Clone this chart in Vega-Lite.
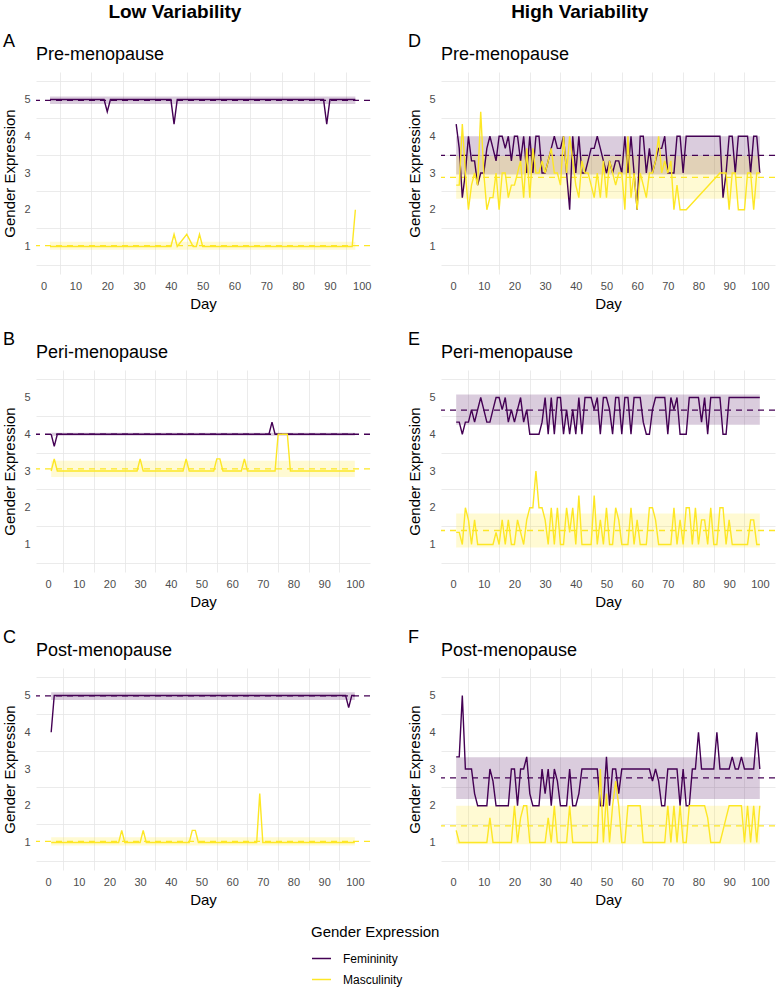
{
"$schema":"https://vega.github.io/schema/vega-lite/v6.json",
"padding":{"left":2,"top":3,"right":0,"bottom":0},
"background":"white",
"datasets":{
"bands":[
{"panel":"A","series":"Femininity","mean":4.98,"lo":4.88,"hi":5.08,"start":2,"end":98},
{"panel":"A","series":"Masculinity","mean":1.02,"lo":0.91,"hi":1.13,"start":2,"end":98},
{"panel":"B","series":"Femininity","mean":4.0,"lo":3.96,"hi":4.04,"start":1,"end":100},
{"panel":"B","series":"Masculinity","mean":3.06,"lo":2.84,"hi":3.28,"start":1,"end":100},
{"panel":"C","series":"Femininity","mean":4.99,"lo":4.88,"hi":5.09,"start":1,"end":100},
{"panel":"C","series":"Masculinity","mean":1.03,"lo":0.92,"hi":1.14,"start":1,"end":100},
{"panel":"D","series":"Femininity","mean":3.48,"lo":2.96,"hi":4.0,"start":1,"end":100},
{"panel":"D","series":"Masculinity","mean":2.88,"lo":2.3,"hi":3.46,"start":1,"end":100},
{"panel":"E","series":"Femininity","mean":4.66,"lo":4.26,"hi":5.08,"start":1,"end":100},
{"panel":"E","series":"Masculinity","mean":1.38,"lo":0.92,"hi":1.84,"start":1,"end":100},
{"panel":"F","series":"Femininity","mean":2.76,"lo":2.18,"hi":3.32,"start":1,"end":100},
{"panel":"F","series":"Masculinity","mean":1.45,"lo":0.95,"hi":2.0,"start":1,"end":100}
],
"A":[
{"day":2,"Femininity":5,"Masculinity":1},{"day":3,"Femininity":5,"Masculinity":1},{"day":4,"Femininity":5,"Masculinity":1},{"day":5,"Femininity":5,"Masculinity":1},{"day":6,"Femininity":5,"Masculinity":1},{"day":7,"Femininity":5,"Masculinity":1},{"day":8,"Femininity":5,"Masculinity":1},{"day":9,"Femininity":5,"Masculinity":1},{"day":10,"Femininity":5,"Masculinity":1},{"day":11,"Femininity":5,"Masculinity":1},{"day":12,"Femininity":5,"Masculinity":1},{"day":13,"Femininity":5,"Masculinity":1},{"day":14,"Femininity":5,"Masculinity":1},{"day":15,"Femininity":5,"Masculinity":1},{"day":16,"Femininity":5,"Masculinity":1},{"day":17,"Femininity":5,"Masculinity":1},{"day":18,"Femininity":5,"Masculinity":1},{"day":19,"Femininity":5,"Masculinity":1},
{"day":20,"Femininity":4.67,"Masculinity":1},
{"day":21,"Femininity":5,"Masculinity":1},{"day":22,"Femininity":5,"Masculinity":1},{"day":23,"Femininity":5,"Masculinity":1},{"day":24,"Femininity":5,"Masculinity":1},{"day":25,"Femininity":5,"Masculinity":1},{"day":26,"Femininity":5,"Masculinity":1},{"day":27,"Femininity":5,"Masculinity":1},{"day":28,"Femininity":5,"Masculinity":1},{"day":29,"Femininity":5,"Masculinity":1},{"day":30,"Femininity":5,"Masculinity":1},{"day":31,"Femininity":5,"Masculinity":1},{"day":32,"Femininity":5,"Masculinity":1},{"day":33,"Femininity":5,"Masculinity":1},{"day":34,"Femininity":5,"Masculinity":1},{"day":35,"Femininity":5,"Masculinity":1},{"day":36,"Femininity":5,"Masculinity":1},{"day":37,"Femininity":5,"Masculinity":1},{"day":38,"Femininity":5,"Masculinity":1},{"day":39,"Femininity":5,"Masculinity":1},{"day":40,"Femininity":5,"Masculinity":1},
{"day":41,"Femininity":4.33,"Masculinity":1.33},{"day":42,"Femininity":5,"Masculinity":1},{"day":45,"Femininity":5,"Masculinity":1.33},{"day":47,"Femininity":5,"Masculinity":1},{"day":48,"Femininity":5,"Masculinity":1},{"day":49,"Femininity":5,"Masculinity":1.33},
{"day":50,"Femininity":5,"Masculinity":1},{"day":51,"Femininity":5,"Masculinity":1},{"day":52,"Femininity":5,"Masculinity":1},{"day":53,"Femininity":5,"Masculinity":1},{"day":54,"Femininity":5,"Masculinity":1},{"day":55,"Femininity":5,"Masculinity":1},{"day":56,"Femininity":5,"Masculinity":1},{"day":57,"Femininity":5,"Masculinity":1},{"day":58,"Femininity":5,"Masculinity":1},{"day":59,"Femininity":5,"Masculinity":1},{"day":60,"Femininity":5,"Masculinity":1},{"day":61,"Femininity":5,"Masculinity":1},{"day":62,"Femininity":5,"Masculinity":1},{"day":63,"Femininity":5,"Masculinity":1},{"day":64,"Femininity":5,"Masculinity":1},{"day":65,"Femininity":5,"Masculinity":1},{"day":66,"Femininity":5,"Masculinity":1},{"day":67,"Femininity":5,"Masculinity":1},{"day":68,"Femininity":5,"Masculinity":1},{"day":69,"Femininity":5,"Masculinity":1},{"day":70,"Femininity":5,"Masculinity":1},{"day":71,"Femininity":5,"Masculinity":1},{"day":72,"Femininity":5,"Masculinity":1},{"day":73,"Femininity":5,"Masculinity":1},{"day":74,"Femininity":5,"Masculinity":1},{"day":75,"Femininity":5,"Masculinity":1},{"day":76,"Femininity":5,"Masculinity":1},{"day":77,"Femininity":5,"Masculinity":1},{"day":78,"Femininity":5,"Masculinity":1},{"day":79,"Femininity":5,"Masculinity":1},{"day":80,"Femininity":5,"Masculinity":1},{"day":81,"Femininity":5,"Masculinity":1},{"day":82,"Femininity":5,"Masculinity":1},{"day":83,"Femininity":5,"Masculinity":1},{"day":84,"Femininity":5,"Masculinity":1},{"day":85,"Femininity":5,"Masculinity":1},{"day":86,"Femininity":5,"Masculinity":1},{"day":87,"Femininity":5,"Masculinity":1},{"day":88,"Femininity":5,"Masculinity":1},
{"day":89,"Femininity":4.33,"Masculinity":1},
{"day":90,"Femininity":5,"Masculinity":1},{"day":91,"Femininity":5,"Masculinity":1},{"day":92,"Femininity":5,"Masculinity":1},{"day":93,"Femininity":5,"Masculinity":1},{"day":94,"Femininity":5,"Masculinity":1},{"day":95,"Femininity":5,"Masculinity":1},{"day":96,"Femininity":5,"Masculinity":1},{"day":97,"Femininity":5,"Masculinity":1},{"day":98,"Femininity":5,"Masculinity":2}
],
"B":[
{"day":1,"Femininity":4,"Masculinity":3},{"day":2,"Femininity":3.67,"Masculinity":3.33},{"day":3,"Femininity":4,"Masculinity":3},{"day":4,"Femininity":4,"Masculinity":3},{"day":5,"Femininity":4,"Masculinity":3},{"day":6,"Femininity":4,"Masculinity":3},{"day":7,"Femininity":4,"Masculinity":3},{"day":8,"Femininity":4,"Masculinity":3},{"day":9,"Femininity":4,"Masculinity":3},{"day":10,"Femininity":4,"Masculinity":3},{"day":11,"Femininity":4,"Masculinity":3},{"day":12,"Femininity":4,"Masculinity":3},{"day":13,"Femininity":4,"Masculinity":3},{"day":14,"Femininity":4,"Masculinity":3},{"day":15,"Femininity":4,"Masculinity":3},{"day":16,"Femininity":4,"Masculinity":3},{"day":17,"Femininity":4,"Masculinity":3},{"day":18,"Femininity":4,"Masculinity":3},{"day":19,"Femininity":4,"Masculinity":3},{"day":20,"Femininity":4,"Masculinity":3},{"day":21,"Femininity":4,"Masculinity":3},{"day":22,"Femininity":4,"Masculinity":3},{"day":23,"Femininity":4,"Masculinity":3},{"day":24,"Femininity":4,"Masculinity":3},{"day":25,"Femininity":4,"Masculinity":3},{"day":26,"Femininity":4,"Masculinity":3},{"day":27,"Femininity":4,"Masculinity":3},{"day":28,"Femininity":4,"Masculinity":3},{"day":29,"Femininity":4,"Masculinity":3},{"day":30,"Femininity":4,"Masculinity":3.33},{"day":31,"Femininity":4,"Masculinity":3},{"day":32,"Femininity":4,"Masculinity":3},{"day":33,"Femininity":4,"Masculinity":3},{"day":34,"Femininity":4,"Masculinity":3},{"day":35,"Femininity":4,"Masculinity":3},{"day":36,"Femininity":4,"Masculinity":3},{"day":37,"Femininity":4,"Masculinity":3},{"day":38,"Femininity":4,"Masculinity":3},{"day":39,"Femininity":4,"Masculinity":3},{"day":40,"Femininity":4,"Masculinity":3},{"day":41,"Femininity":4,"Masculinity":3},{"day":42,"Femininity":4,"Masculinity":3},{"day":43,"Femininity":4,"Masculinity":3},{"day":44,"Femininity":4,"Masculinity":3},{"day":45,"Femininity":4,"Masculinity":3.33},{"day":46,"Femininity":4,"Masculinity":3},{"day":47,"Femininity":4,"Masculinity":3},{"day":48,"Femininity":4,"Masculinity":3},{"day":49,"Femininity":4,"Masculinity":3},{"day":50,"Femininity":4,"Masculinity":3},{"day":51,"Femininity":4,"Masculinity":3},{"day":52,"Femininity":4,"Masculinity":3},{"day":53,"Femininity":4,"Masculinity":3},{"day":54,"Femininity":4,"Masculinity":3},{"day":55,"Femininity":4,"Masculinity":3.33},{"day":56,"Femininity":4,"Masculinity":3.33},{"day":57,"Femininity":4,"Masculinity":3},{"day":58,"Femininity":4,"Masculinity":3},{"day":59,"Femininity":4,"Masculinity":3},{"day":60,"Femininity":4,"Masculinity":3},{"day":61,"Femininity":4,"Masculinity":3},{"day":62,"Femininity":4,"Masculinity":3},{"day":63,"Femininity":4,"Masculinity":3},{"day":64,"Femininity":4,"Masculinity":3.33},{"day":65,"Femininity":4,"Masculinity":3},{"day":66,"Femininity":4,"Masculinity":3},{"day":67,"Femininity":4,"Masculinity":3},{"day":68,"Femininity":4,"Masculinity":3},{"day":69,"Femininity":4,"Masculinity":3},{"day":70,"Femininity":4,"Masculinity":3},{"day":71,"Femininity":4,"Masculinity":3},{"day":72,"Femininity":4,"Masculinity":3},{"day":73,"Femininity":4.33,"Masculinity":3},{"day":74,"Femininity":4,"Masculinity":3},{"day":75,"Femininity":4,"Masculinity":4},{"day":76,"Femininity":4,"Masculinity":4},{"day":77,"Femininity":4,"Masculinity":4},{"day":78,"Femininity":4,"Masculinity":4},{"day":79,"Femininity":4,"Masculinity":3},{"day":80,"Femininity":4,"Masculinity":3},{"day":81,"Femininity":4,"Masculinity":3},{"day":82,"Femininity":4,"Masculinity":3},{"day":83,"Femininity":4,"Masculinity":3},{"day":84,"Femininity":4,"Masculinity":3},{"day":85,"Femininity":4,"Masculinity":3},{"day":86,"Femininity":4,"Masculinity":3},{"day":87,"Femininity":4,"Masculinity":3},{"day":88,"Femininity":4,"Masculinity":3},{"day":89,"Femininity":4,"Masculinity":3},{"day":90,"Femininity":4,"Masculinity":3},{"day":91,"Femininity":4,"Masculinity":3},{"day":92,"Femininity":4,"Masculinity":3},{"day":93,"Femininity":4,"Masculinity":3},{"day":94,"Femininity":4,"Masculinity":3},{"day":95,"Femininity":4,"Masculinity":3},{"day":96,"Femininity":4,"Masculinity":3},{"day":97,"Femininity":4,"Masculinity":3},{"day":98,"Femininity":4,"Masculinity":3},{"day":99,"Femininity":4,"Masculinity":3},{"day":100,"Femininity":4,"Masculinity":3}
],
"C":[
{"day":1,"Femininity":4,"Masculinity":1},{"day":2,"Femininity":5,"Masculinity":1},{"day":3,"Femininity":5,"Masculinity":1},{"day":4,"Femininity":5,"Masculinity":1},{"day":5,"Femininity":5,"Masculinity":1},{"day":6,"Femininity":5,"Masculinity":1},{"day":7,"Femininity":5,"Masculinity":1},{"day":8,"Femininity":5,"Masculinity":1},{"day":9,"Femininity":5,"Masculinity":1},{"day":10,"Femininity":5,"Masculinity":1},{"day":11,"Femininity":5,"Masculinity":1},{"day":12,"Femininity":5,"Masculinity":1},{"day":13,"Femininity":5,"Masculinity":1},{"day":14,"Femininity":5,"Masculinity":1},{"day":15,"Femininity":5,"Masculinity":1},{"day":16,"Femininity":5,"Masculinity":1},{"day":17,"Femininity":5,"Masculinity":1},{"day":18,"Femininity":5,"Masculinity":1},{"day":19,"Femininity":5,"Masculinity":1},{"day":20,"Femininity":5,"Masculinity":1},{"day":21,"Femininity":5,"Masculinity":1},{"day":22,"Femininity":5,"Masculinity":1},{"day":23,"Femininity":5,"Masculinity":1},{"day":24,"Femininity":5,"Masculinity":1.33},{"day":25,"Femininity":5,"Masculinity":1},{"day":26,"Femininity":5,"Masculinity":1},{"day":27,"Femininity":5,"Masculinity":1},{"day":28,"Femininity":5,"Masculinity":1},{"day":29,"Femininity":5,"Masculinity":1},{"day":30,"Femininity":5,"Masculinity":1},{"day":31,"Femininity":5,"Masculinity":1.33},{"day":32,"Femininity":5,"Masculinity":1},{"day":33,"Femininity":5,"Masculinity":1},{"day":34,"Femininity":5,"Masculinity":1},{"day":35,"Femininity":5,"Masculinity":1},{"day":36,"Femininity":5,"Masculinity":1},{"day":37,"Femininity":5,"Masculinity":1},{"day":38,"Femininity":5,"Masculinity":1},{"day":39,"Femininity":5,"Masculinity":1},{"day":40,"Femininity":5,"Masculinity":1},{"day":41,"Femininity":5,"Masculinity":1},{"day":42,"Femininity":5,"Masculinity":1},{"day":43,"Femininity":5,"Masculinity":1},{"day":44,"Femininity":5,"Masculinity":1},{"day":45,"Femininity":5,"Masculinity":1},{"day":46,"Femininity":5,"Masculinity":1},{"day":47,"Femininity":5,"Masculinity":1.33},{"day":48,"Femininity":5,"Masculinity":1.33},{"day":49,"Femininity":5,"Masculinity":1},{"day":50,"Femininity":5,"Masculinity":1},{"day":51,"Femininity":5,"Masculinity":1},{"day":52,"Femininity":5,"Masculinity":1},{"day":53,"Femininity":5,"Masculinity":1},{"day":54,"Femininity":5,"Masculinity":1},{"day":55,"Femininity":5,"Masculinity":1},{"day":56,"Femininity":5,"Masculinity":1},{"day":57,"Femininity":5,"Masculinity":1},{"day":58,"Femininity":5,"Masculinity":1},{"day":59,"Femininity":5,"Masculinity":1},{"day":60,"Femininity":5,"Masculinity":1},{"day":61,"Femininity":5,"Masculinity":1},{"day":62,"Femininity":5,"Masculinity":1},{"day":63,"Femininity":5,"Masculinity":1},{"day":64,"Femininity":5,"Masculinity":1},{"day":65,"Femininity":5,"Masculinity":1},{"day":66,"Femininity":5,"Masculinity":1},{"day":67,"Femininity":5,"Masculinity":1},{"day":68,"Femininity":5,"Masculinity":1},{"day":69,"Femininity":5,"Masculinity":2.33},{"day":70,"Femininity":5,"Masculinity":1},{"day":71,"Femininity":5,"Masculinity":1},{"day":72,"Femininity":5,"Masculinity":1},{"day":73,"Femininity":5,"Masculinity":1},{"day":74,"Femininity":5,"Masculinity":1},{"day":75,"Femininity":5,"Masculinity":1},{"day":76,"Femininity":5,"Masculinity":1},{"day":77,"Femininity":5,"Masculinity":1},{"day":78,"Femininity":5,"Masculinity":1},{"day":79,"Femininity":5,"Masculinity":1},{"day":80,"Femininity":5,"Masculinity":1},{"day":81,"Femininity":5,"Masculinity":1},{"day":82,"Femininity":5,"Masculinity":1},{"day":83,"Femininity":5,"Masculinity":1},{"day":84,"Femininity":5,"Masculinity":1},{"day":85,"Femininity":5,"Masculinity":1},{"day":86,"Femininity":5,"Masculinity":1},{"day":87,"Femininity":5,"Masculinity":1},{"day":88,"Femininity":5,"Masculinity":1},{"day":89,"Femininity":5,"Masculinity":1},{"day":90,"Femininity":5,"Masculinity":1},{"day":91,"Femininity":5,"Masculinity":1},{"day":92,"Femininity":5,"Masculinity":1},{"day":93,"Femininity":5,"Masculinity":1},{"day":94,"Femininity":5,"Masculinity":1},{"day":95,"Femininity":5,"Masculinity":1},{"day":96,"Femininity":5,"Masculinity":1},{"day":97,"Femininity":5,"Masculinity":1},{"day":98,"Femininity":4.67,"Masculinity":1},{"day":99,"Femininity":5,"Masculinity":1},{"day":100,"Femininity":5,"Masculinity":1}
],
"D":[
{"day":1,"Femininity":4.33,"Masculinity":2.67},{"day":2,"Femininity":3.67,"Masculinity":2.67},{"day":3,"Femininity":2.33,"Masculinity":4.33},{"day":4,"Femininity":3,"Masculinity":3},{"day":5,"Femininity":4,"Masculinity":2},{"day":6,"Femininity":3.33,"Masculinity":2.67},{"day":7,"Femininity":3.33,"Masculinity":3},{"day":8,"Femininity":2.67,"Masculinity":2.67},{"day":9,"Femininity":3,"Masculinity":4.67},{"day":10,"Femininity":3,"Masculinity":3},{"day":11,"Femininity":3.67,"Masculinity":2},{"day":12,"Femininity":4,"Masculinity":2.33},{"day":13,"Femininity":3.67,"Masculinity":2.33},{"day":14,"Femininity":3.33,"Masculinity":3},{"day":15,"Femininity":4,"Masculinity":2},{"day":16,"Femininity":4,"Masculinity":3},{"day":17,"Femininity":3.67,"Masculinity":3},{"day":18,"Femininity":4,"Masculinity":2.33},{"day":19,"Femininity":3.33,"Masculinity":2.67},{"day":20,"Femininity":4,"Masculinity":2.67},{"day":21,"Femininity":4,"Masculinity":3},{"day":22,"Femininity":3.33,"Masculinity":3.33},{"day":23,"Femininity":4,"Masculinity":2.33},{"day":24,"Femininity":3,"Masculinity":3.67},{"day":25,"Femininity":4,"Masculinity":2.33},{"day":26,"Femininity":3,"Masculinity":3.67},{"day":27,"Femininity":4,"Masculinity":3},{"day":28,"Femininity":4,"Masculinity":3},{"day":29,"Femininity":3,"Masculinity":3.33},{"day":30,"Femininity":3,"Masculinity":3},{"day":31,"Femininity":3.33,"Masculinity":3.33},{"day":32,"Femininity":3.67,"Masculinity":3.67},{"day":33,"Femininity":4,"Masculinity":3},{"day":34,"Femininity":3.67,"Masculinity":3},{"day":35,"Femininity":3.67,"Masculinity":2.67},{"day":36,"Femininity":4,"Masculinity":4},{"day":37,"Femininity":3,"Masculinity":3},{"day":38,"Femininity":2,"Masculinity":4},{"day":39,"Femininity":4,"Masculinity":3.33},{"day":40,"Femininity":3,"Masculinity":2.67},{"day":41,"Femininity":4,"Masculinity":2.33},{"day":42,"Femininity":3,"Masculinity":3.33},{"day":43,"Femininity":3,"Masculinity":3},{"day":44,"Femininity":3.33,"Masculinity":3},{"day":45,"Femininity":3.67,"Masculinity":2.67},{"day":46,"Femininity":3.67,"Masculinity":2.33},{"day":47,"Femininity":4,"Masculinity":3},{"day":48,"Femininity":3.67,"Masculinity":2.33},{"day":49,"Femininity":3.33,"Masculinity":3.33},{"day":50,"Femininity":3,"Masculinity":2.33},{"day":51,"Femininity":3.33,"Masculinity":3.33},{"day":52,"Femininity":3,"Masculinity":3},{"day":53,"Femininity":3.33,"Masculinity":2.67},{"day":54,"Femininity":3.33,"Masculinity":3},{"day":55,"Femininity":3,"Masculinity":3},{"day":56,"Femininity":4,"Masculinity":2},{"day":57,"Femininity":3,"Masculinity":4},{"day":58,"Femininity":4,"Masculinity":2.33},{"day":59,"Femininity":3,"Masculinity":3},{"day":60,"Femininity":2,"Masculinity":2},{"day":61,"Femininity":4,"Masculinity":3},{"day":62,"Femininity":4,"Masculinity":2.67},{"day":63,"Femininity":3,"Masculinity":2.33},{"day":64,"Femininity":3.67,"Masculinity":3},{"day":65,"Femininity":3,"Masculinity":3},{"day":66,"Femininity":3.33,"Masculinity":3.33},{"day":67,"Femininity":3.67,"Masculinity":4},{"day":68,"Femininity":3.67,"Masculinity":3},{"day":69,"Femininity":4,"Masculinity":3.33},{"day":70,"Femininity":3,"Masculinity":3},{"day":71,"Femininity":3,"Masculinity":3.33},{"day":72,"Femininity":3,"Masculinity":2},{"day":73,"Femininity":4,"Masculinity":2.67},{"day":74,"Femininity":4,"Masculinity":2},{"day":75,"Femininity":3,"Masculinity":2},{"day":76,"Femininity":4,"Masculinity":2},{"day":77,"Femininity":4},{"day":78,"Femininity":4},{"day":79,"Femininity":4},{"day":80,"Femininity":4},{"day":81,"Femininity":4},{"day":82,"Femininity":4},{"day":83,"Femininity":4},{"day":84,"Femininity":4},{"day":85,"Femininity":4},{"day":86,"Femininity":4},{"day":87,"Femininity":4,"Masculinity":3},{"day":88,"Femininity":2.33,"Masculinity":3},{"day":89,"Femininity":3,"Masculinity":3},{"day":90,"Femininity":4,"Masculinity":2},{"day":91,"Femininity":4,"Masculinity":3},{"day":92,"Femininity":3,"Masculinity":3},{"day":93,"Femininity":4,"Masculinity":2},{"day":94,"Femininity":4,"Masculinity":2},{"day":95,"Femininity":4,"Masculinity":2},{"day":96,"Femininity":4,"Masculinity":3},{"day":97,"Femininity":3,"Masculinity":3},{"day":98,"Femininity":4,"Masculinity":2},{"day":99,"Femininity":4,"Masculinity":3},{"day":100,"Femininity":3,"Masculinity":3}
],
"E":[
{"day":1,"Femininity":4.33,"Masculinity":1.33},{"day":2,"Femininity":4.33,"Masculinity":1.33},{"day":3,"Femininity":4,"Masculinity":1},{"day":4,"Femininity":4.33,"Masculinity":2},{"day":5,"Femininity":4.33,"Masculinity":1.67},{"day":6,"Femininity":4.67,"Masculinity":1},{"day":7,"Femininity":4.33,"Masculinity":1.67},{"day":8,"Femininity":4.67,"Masculinity":1},{"day":9,"Femininity":5,"Masculinity":1},{"day":10,"Femininity":4.67,"Masculinity":1},{"day":11,"Femininity":4.33,"Masculinity":1},{"day":12,"Femininity":4.33,"Masculinity":1},{"day":13,"Femininity":4.67,"Masculinity":1},{"day":14,"Femininity":5,"Masculinity":1.33},{"day":15,"Femininity":5,"Masculinity":1},{"day":16,"Femininity":4.67,"Masculinity":1.67},{"day":17,"Femininity":5,"Masculinity":1},{"day":18,"Femininity":4.33,"Masculinity":1.67},{"day":19,"Femininity":4.67,"Masculinity":1},{"day":20,"Femininity":4.33,"Masculinity":1},{"day":21,"Femininity":4.67,"Masculinity":1.67},{"day":22,"Femininity":5,"Masculinity":1.33},{"day":23,"Femininity":4.33,"Masculinity":1},{"day":24,"Femininity":4.67,"Masculinity":1.67},{"day":25,"Femininity":4,"Masculinity":2},{"day":26,"Femininity":4,"Masculinity":2},{"day":27,"Femininity":4,"Masculinity":3},{"day":28,"Femininity":4,"Masculinity":2},{"day":29,"Femininity":4.33,"Masculinity":2},{"day":30,"Femininity":5,"Masculinity":1.67},{"day":31,"Femininity":4,"Masculinity":1},{"day":32,"Femininity":5,"Masculinity":2},{"day":33,"Femininity":4,"Masculinity":1},{"day":34,"Femininity":5,"Masculinity":2},{"day":35,"Femininity":5,"Masculinity":1},{"day":36,"Femininity":4,"Masculinity":1},{"day":37,"Femininity":4.67,"Masculinity":2},{"day":38,"Femininity":4,"Masculinity":1.33},{"day":39,"Femininity":4.67,"Masculinity":2},{"day":40,"Femininity":4,"Masculinity":1},{"day":41,"Femininity":5,"Masculinity":2.33},{"day":42,"Femininity":4,"Masculinity":1},{"day":43,"Femininity":5,"Masculinity":1},{"day":44,"Femininity":5,"Masculinity":1},{"day":45,"Femininity":5,"Masculinity":1},{"day":46,"Femininity":4.67,"Masculinity":2.33},{"day":47,"Femininity":5,"Masculinity":1},{"day":48,"Femininity":4,"Masculinity":1.67},{"day":49,"Femininity":5,"Masculinity":1},{"day":50,"Femininity":5,"Masculinity":2},{"day":51,"Femininity":4.67,"Masculinity":1},{"day":52,"Femininity":4,"Masculinity":1},{"day":53,"Femininity":5,"Masculinity":2},{"day":54,"Femininity":5,"Masculinity":1.67},{"day":55,"Femininity":4,"Masculinity":1},{"day":56,"Femininity":5,"Masculinity":1},{"day":57,"Femininity":5,"Masculinity":1},{"day":58,"Femininity":4,"Masculinity":2},{"day":59,"Femininity":5,"Masculinity":1},{"day":60,"Femininity":5,"Masculinity":1.67},{"day":61,"Femininity":5,"Masculinity":1},{"day":62,"Femininity":4.33,"Masculinity":1},{"day":63,"Femininity":4,"Masculinity":1},{"day":64,"Femininity":4,"Masculinity":2},{"day":65,"Femininity":4.67,"Masculinity":2},{"day":66,"Femininity":5,"Masculinity":1.67},{"day":67,"Femininity":5,"Masculinity":1},{"day":68,"Femininity":5,"Masculinity":1},{"day":69,"Femininity":5,"Masculinity":1},{"day":70,"Femininity":4,"Masculinity":1},{"day":71,"Femininity":5,"Masculinity":1},{"day":72,"Femininity":4.67,"Masculinity":2},{"day":73,"Femininity":5,"Masculinity":1},{"day":74,"Femininity":4,"Masculinity":1.67},{"day":75,"Femininity":4,"Masculinity":1},{"day":76,"Femininity":4,"Masculinity":2},{"day":77,"Femininity":5,"Masculinity":2},{"day":78,"Femininity":5,"Masculinity":1},{"day":79,"Femininity":5,"Masculinity":2},{"day":80,"Femininity":5,"Masculinity":1},{"day":81,"Femininity":4.33,"Masculinity":1.67},{"day":82,"Femininity":5,"Masculinity":1.67},{"day":83,"Femininity":4,"Masculinity":1},{"day":84,"Femininity":5,"Masculinity":2},{"day":85,"Femininity":5,"Masculinity":1},{"day":86,"Femininity":5,"Masculinity":1},{"day":87,"Femininity":5,"Masculinity":2},{"day":88,"Femininity":4,"Masculinity":2},{"day":89,"Femininity":4,"Masculinity":1},{"day":90,"Femininity":5,"Masculinity":1.67},{"day":91,"Femininity":5,"Masculinity":1},{"day":92,"Femininity":5,"Masculinity":1},{"day":93,"Femininity":5,"Masculinity":1},{"day":94,"Femininity":5,"Masculinity":1},{"day":95,"Femininity":5,"Masculinity":1},{"day":96,"Femininity":5,"Masculinity":1},{"day":97,"Femininity":5,"Masculinity":1.67},{"day":98,"Femininity":5,"Masculinity":1.67},{"day":99,"Femininity":5,"Masculinity":1},{"day":100,"Femininity":5,"Masculinity":1}
],
"F":[
{"day":1,"Femininity":3.33,"Masculinity":1.33},{"day":2,"Femininity":3.33,"Masculinity":1},{"day":3,"Femininity":5,"Masculinity":1},{"day":4,"Femininity":3,"Masculinity":1},{"day":5,"Femininity":3,"Masculinity":1},{"day":6,"Femininity":3,"Masculinity":1},{"day":7,"Femininity":2.33,"Masculinity":1},{"day":8,"Femininity":2,"Masculinity":1},{"day":9,"Femininity":2,"Masculinity":1},{"day":10,"Femininity":2,"Masculinity":1},{"day":11,"Femininity":2,"Masculinity":1},{"day":12,"Femininity":3,"Masculinity":1.67},{"day":13,"Femininity":2.67,"Masculinity":1},{"day":14,"Femininity":2,"Masculinity":1},{"day":15,"Femininity":2,"Masculinity":1},{"day":16,"Femininity":2,"Masculinity":1},{"day":17,"Femininity":2,"Masculinity":1},{"day":18,"Femininity":2,"Masculinity":1},{"day":19,"Femininity":3,"Masculinity":1},{"day":20,"Femininity":3,"Masculinity":2},{"day":21,"Femininity":2,"Masculinity":1},{"day":22,"Femininity":3,"Masculinity":1.67},{"day":23,"Femininity":3,"Masculinity":2},{"day":24,"Femininity":3.33,"Masculinity":2},{"day":25,"Femininity":2.33,"Masculinity":1},{"day":26,"Femininity":2,"Masculinity":1},{"day":27,"Femininity":2,"Masculinity":1},{"day":28,"Femininity":2,"Masculinity":1},{"day":29,"Femininity":3,"Masculinity":1},{"day":30,"Femininity":2.33,"Masculinity":1},{"day":31,"Femininity":3,"Masculinity":1.67},{"day":32,"Femininity":2,"Masculinity":1},{"day":33,"Femininity":3,"Masculinity":2},{"day":34,"Femininity":2.67,"Masculinity":1},{"day":35,"Femininity":2,"Masculinity":1},{"day":36,"Femininity":2,"Masculinity":1},{"day":37,"Femininity":2,"Masculinity":1},{"day":38,"Femininity":3,"Masculinity":2},{"day":39,"Femininity":2,"Masculinity":1},{"day":40,"Femininity":2,"Masculinity":1},{"day":41,"Femininity":2.33,"Masculinity":1},{"day":42,"Femininity":3,"Masculinity":1},{"day":43,"Femininity":3,"Masculinity":1},{"day":44,"Femininity":3,"Masculinity":1},{"day":45,"Femininity":3,"Masculinity":1},{"day":46,"Femininity":3,"Masculinity":1},{"day":47,"Femininity":3,"Masculinity":1},{"day":48,"Femininity":2,"Masculinity":3},{"day":49,"Femininity":2,"Masculinity":1},{"day":50,"Femininity":3.33,"Masculinity":2.33},{"day":51,"Femininity":2,"Masculinity":1},{"day":52,"Femininity":3,"Masculinity":2},{"day":53,"Femininity":3,"Masculinity":2.67},{"day":54,"Femininity":2.33,"Masculinity":2},{"day":55,"Femininity":3,"Masculinity":1},{"day":56,"Femininity":3,"Masculinity":1},{"day":57,"Femininity":3,"Masculinity":2},{"day":58,"Femininity":3,"Masculinity":2},{"day":59,"Femininity":3,"Masculinity":2},{"day":60,"Femininity":3,"Masculinity":2},{"day":61,"Femininity":3,"Masculinity":2},{"day":62,"Femininity":3,"Masculinity":1},{"day":63,"Femininity":3,"Masculinity":1},{"day":64,"Femininity":3,"Masculinity":1},{"day":65,"Femininity":2.67,"Masculinity":1},{"day":66,"Femininity":3,"Masculinity":1},{"day":67,"Femininity":2.67,"Masculinity":1},{"day":68,"Femininity":2,"Masculinity":1},{"day":69,"Femininity":2,"Masculinity":1},{"day":70,"Femininity":3,"Masculinity":2},{"day":71,"Femininity":3,"Masculinity":1},{"day":72,"Femininity":3,"Masculinity":2},{"day":73,"Femininity":3,"Masculinity":1},{"day":74,"Femininity":2,"Masculinity":2},{"day":75,"Femininity":3,"Masculinity":1},{"day":76,"Femininity":2,"Masculinity":1},{"day":77,"Femininity":2,"Masculinity":2},{"day":78,"Femininity":3,"Masculinity":2},{"day":79,"Femininity":3,"Masculinity":2},{"day":80,"Femininity":4,"Masculinity":2},{"day":81,"Femininity":3,"Masculinity":2},{"day":82,"Femininity":3,"Masculinity":2},{"day":83,"Femininity":3,"Masculinity":1.67},{"day":84,"Femininity":3,"Masculinity":1},{"day":85,"Femininity":3,"Masculinity":1},{"day":86,"Femininity":4,"Masculinity":1},{"day":87,"Femininity":3,"Masculinity":1},{"day":88,"Femininity":3,"Masculinity":1.33},{"day":89,"Femininity":3,"Masculinity":1.67},{"day":90,"Femininity":3,"Masculinity":2},{"day":91,"Femininity":3.33,"Masculinity":2},{"day":92,"Femininity":3,"Masculinity":2},{"day":93,"Femininity":3,"Masculinity":2},{"day":94,"Femininity":3.33,"Masculinity":2},{"day":95,"Femininity":3,"Masculinity":1},{"day":96,"Femininity":3,"Masculinity":2},{"day":97,"Femininity":3,"Masculinity":1},{"day":98,"Femininity":3,"Masculinity":2},{"day":99,"Femininity":4,"Masculinity":1},{"day":100,"Femininity":3,"Masculinity":2}
]
},
"spacing":36,
"hconcat":[
{"title":{"text":"Low Variability","fontSize":19,"fontWeight":"bold","anchor":"middle","dx":-12,"offset":11},
 "spacing":20,
 "vconcat":[
{"title":{"text":"A","anchor":"start","frame":"bounds","fontSize":18,"offset":-5},
 "vconcat":[{"title":{"text":"Pre-menopause","anchor":"start","frame":"group","fontSize":18,"offset":8},
 "width":334,"height":202,
 "resolve":{"axis":{"x":"independent","y":"independent"}},
 "layer":[
 {"data":{"name":"bands"},"transform":[{"filter":"datum.panel === 'A'"}],"mark":{"type":"rect","fillOpacity":0.2},
  "encoding":{"x":{"field":"start","type":"quantitative","scale":{"domain":[-2.4,102.6],"nice":false,"zero":false},"axis":{"orient":"top","title":null,"labels":false,"values":[5,15,25,35,45,55,65,75,85,95],"gridWidth":0.8}},
  "x2":{"field":"end"},
  "y":{"field":"lo","type":"quantitative","scale":{"domain":[0.25,5.75],"nice":false,"zero":false},"axis":{"orient":"right","title":null,"labels":false,"values":[0.5,1.5,2.5,3.5,4.5,5.5],"gridWidth":0.8}},
  "y2":{"field":"hi"},
  "color":{"field":"series","type":"nominal","scale":{"domain":["Femininity","Masculinity"],"range":["#440154","#FDE725"]}}}},
 {"data":{"name":"bands"},"transform":[{"filter":"datum.panel === 'A'"}],"mark":{"type":"rule","strokeDash":[6,5],"strokeWidth":1.3},
  "encoding":{"y":{"field":"mean","type":"quantitative","scale":{"domain":[0.25,5.75],"nice":false,"zero":false},"axis":null},
  "color":{"field":"series","type":"nominal","scale":{"domain":["Femininity","Masculinity"],"range":["#440154","#FDE725"]}}}},
 {"data":{"name":"A"},"transform":[{"fold":["Femininity","Masculinity"],"as":["series","value"]}],"mark":{"type":"line","strokeWidth":1.4,"invalid":"filter"},
  "encoding":{"x":{"field":"day","type":"quantitative","scale":{"domain":[-2.4,102.6],"nice":false,"zero":false},"axis":{"orient":"bottom","title":"Day","values":[0,10,20,30,40,50,60,70,80,90,100],"gridWidth":1.5}},
  "y":{"field":"value","type":"quantitative","scale":{"domain":[0.25,5.75],"nice":false,"zero":false},"axis":{"orient":"left","title":"Gender Expression","values":[1,2,3,4,5],"gridWidth":1.5}},
  "color":{"field":"series","type":"nominal","scale":{"domain":["Femininity","Masculinity"],"range":["#440154","#FDE725"]},"legend":{"title":"Gender Expression","orient":"bottom","direction":"vertical","symbolOpacity":1,"symbolDash":[],"padding":275,"offset":-257}}}}
 ]}]},
{"title":{"text":"B","anchor":"start","frame":"bounds","fontSize":18,"offset":-5},
 "vconcat":[{"title":{"text":"Peri-menopause","anchor":"start","frame":"group","fontSize":18,"offset":8},
 "width":334,"height":202,
 "resolve":{"axis":{"x":"independent","y":"independent"}},
 "layer":[
 {"data":{"name":"bands"},"transform":[{"filter":"datum.panel === 'B'"}],"mark":{"type":"rect","fillOpacity":0.2},
  "encoding":{"x":{"field":"start","type":"quantitative","scale":{"domain":[-3.95,104.95],"nice":false,"zero":false},"axis":{"orient":"top","title":null,"labels":false,"values":[5,15,25,35,45,55,65,75,85,95],"gridWidth":0.8}},
  "x2":{"field":"end"},
  "y":{"field":"lo","type":"quantitative","scale":{"domain":[0.25,5.75],"nice":false,"zero":false},"axis":{"orient":"right","title":null,"labels":false,"values":[0.5,1.5,2.5,3.5,4.5,5.5],"gridWidth":0.8}},
  "y2":{"field":"hi"},
  "color":{"field":"series","type":"nominal","scale":{"domain":["Femininity","Masculinity"],"range":["#440154","#FDE725"]}}}},
 {"data":{"name":"bands"},"transform":[{"filter":"datum.panel === 'B'"}],"mark":{"type":"rule","strokeDash":[6,5],"strokeWidth":1.3},
  "encoding":{"y":{"field":"mean","type":"quantitative","scale":{"domain":[0.25,5.75],"nice":false,"zero":false},"axis":null},
  "color":{"field":"series","type":"nominal","scale":{"domain":["Femininity","Masculinity"],"range":["#440154","#FDE725"]}}}},
 {"data":{"name":"B"},"transform":[{"fold":["Femininity","Masculinity"],"as":["series","value"]}],"mark":{"type":"line","strokeWidth":1.4,"invalid":"filter"},
  "encoding":{"x":{"field":"day","type":"quantitative","scale":{"domain":[-3.95,104.95],"nice":false,"zero":false},"axis":{"orient":"bottom","title":"Day","values":[0,10,20,30,40,50,60,70,80,90,100],"gridWidth":1.5}},
  "y":{"field":"value","type":"quantitative","scale":{"domain":[0.25,5.75],"nice":false,"zero":false},"axis":{"orient":"left","title":"Gender Expression","values":[1,2,3,4,5],"gridWidth":1.5}},
  "color":{"field":"series","type":"nominal","scale":{"domain":["Femininity","Masculinity"],"range":["#440154","#FDE725"]},"legend":{"title":"Gender Expression","orient":"bottom","direction":"vertical","symbolOpacity":1,"symbolDash":[],"padding":275,"offset":-257}}}}
 ]}]},
{"title":{"text":"C","anchor":"start","frame":"bounds","fontSize":18,"offset":-5},
 "vconcat":[{"title":{"text":"Post-menopause","anchor":"start","frame":"group","fontSize":18,"offset":8},
 "width":334,"height":202,
 "resolve":{"axis":{"x":"independent","y":"independent"}},
 "layer":[
 {"data":{"name":"bands"},"transform":[{"filter":"datum.panel === 'C'"}],"mark":{"type":"rect","fillOpacity":0.2},
  "encoding":{"x":{"field":"start","type":"quantitative","scale":{"domain":[-3.95,104.95],"nice":false,"zero":false},"axis":{"orient":"top","title":null,"labels":false,"values":[5,15,25,35,45,55,65,75,85,95],"gridWidth":0.8}},
  "x2":{"field":"end"},
  "y":{"field":"lo","type":"quantitative","scale":{"domain":[0.25,5.75],"nice":false,"zero":false},"axis":{"orient":"right","title":null,"labels":false,"values":[0.5,1.5,2.5,3.5,4.5,5.5],"gridWidth":0.8}},
  "y2":{"field":"hi"},
  "color":{"field":"series","type":"nominal","scale":{"domain":["Femininity","Masculinity"],"range":["#440154","#FDE725"]}}}},
 {"data":{"name":"bands"},"transform":[{"filter":"datum.panel === 'C'"}],"mark":{"type":"rule","strokeDash":[6,5],"strokeWidth":1.3},
  "encoding":{"y":{"field":"mean","type":"quantitative","scale":{"domain":[0.25,5.75],"nice":false,"zero":false},"axis":null},
  "color":{"field":"series","type":"nominal","scale":{"domain":["Femininity","Masculinity"],"range":["#440154","#FDE725"]}}}},
 {"data":{"name":"C"},"transform":[{"fold":["Femininity","Masculinity"],"as":["series","value"]}],"mark":{"type":"line","strokeWidth":1.4,"invalid":"filter"},
  "encoding":{"x":{"field":"day","type":"quantitative","scale":{"domain":[-3.95,104.95],"nice":false,"zero":false},"axis":{"orient":"bottom","title":"Day","values":[0,10,20,30,40,50,60,70,80,90,100],"gridWidth":1.5}},
  "y":{"field":"value","type":"quantitative","scale":{"domain":[0.25,5.75],"nice":false,"zero":false},"axis":{"orient":"left","title":"Gender Expression","values":[1,2,3,4,5],"gridWidth":1.5}},
  "color":{"field":"series","type":"nominal","scale":{"domain":["Femininity","Masculinity"],"range":["#440154","#FDE725"]},"legend":{"title":"Gender Expression","orient":"bottom","direction":"vertical","symbolOpacity":1,"symbolDash":[],"padding":275,"offset":-257}}}}
 ]}]}
 ]},
{"title":{"text":"High Variability","fontSize":19,"fontWeight":"bold","anchor":"middle","dx":-12,"offset":11},
 "spacing":20,
 "vconcat":[
{"title":{"text":"D","anchor":"start","frame":"bounds","fontSize":18,"offset":-5},
 "vconcat":[{"title":{"text":"Pre-menopause","anchor":"start","frame":"group","fontSize":18,"offset":8},
 "width":334,"height":202,
 "resolve":{"axis":{"x":"independent","y":"independent"}},
 "layer":[
 {"data":{"name":"bands"},"transform":[{"filter":"datum.panel === 'D'"}],"mark":{"type":"rect","fillOpacity":0.2},
  "encoding":{"x":{"field":"start","type":"quantitative","scale":{"domain":[-3.95,104.95],"nice":false,"zero":false},"axis":{"orient":"top","title":null,"labels":false,"values":[5,15,25,35,45,55,65,75,85,95],"gridWidth":0.8}},
  "x2":{"field":"end"},
  "y":{"field":"lo","type":"quantitative","scale":{"domain":[0.25,5.75],"nice":false,"zero":false},"axis":{"orient":"right","title":null,"labels":false,"values":[0.5,1.5,2.5,3.5,4.5,5.5],"gridWidth":0.8}},
  "y2":{"field":"hi"},
  "color":{"field":"series","type":"nominal","scale":{"domain":["Femininity","Masculinity"],"range":["#440154","#FDE725"]}}}},
 {"data":{"name":"bands"},"transform":[{"filter":"datum.panel === 'D'"}],"mark":{"type":"rule","strokeDash":[6,5],"strokeWidth":1.3},
  "encoding":{"y":{"field":"mean","type":"quantitative","scale":{"domain":[0.25,5.75],"nice":false,"zero":false},"axis":null},
  "color":{"field":"series","type":"nominal","scale":{"domain":["Femininity","Masculinity"],"range":["#440154","#FDE725"]}}}},
 {"data":{"name":"D"},"transform":[{"fold":["Femininity","Masculinity"],"as":["series","value"]}],"mark":{"type":"line","strokeWidth":1.4,"invalid":"filter"},
  "encoding":{"x":{"field":"day","type":"quantitative","scale":{"domain":[-3.95,104.95],"nice":false,"zero":false},"axis":{"orient":"bottom","title":"Day","values":[0,10,20,30,40,50,60,70,80,90,100],"gridWidth":1.5}},
  "y":{"field":"value","type":"quantitative","scale":{"domain":[0.25,5.75],"nice":false,"zero":false},"axis":{"orient":"left","title":"Gender Expression","values":[1,2,3,4,5],"gridWidth":1.5}},
  "color":{"field":"series","type":"nominal","scale":{"domain":["Femininity","Masculinity"],"range":["#440154","#FDE725"]},"legend":{"title":"Gender Expression","orient":"bottom","direction":"vertical","symbolOpacity":1,"symbolDash":[],"padding":275,"offset":-257}}}}
 ]}]},
{"title":{"text":"E","anchor":"start","frame":"bounds","fontSize":18,"offset":-5},
 "vconcat":[{"title":{"text":"Peri-menopause","anchor":"start","frame":"group","fontSize":18,"offset":8},
 "width":334,"height":202,
 "resolve":{"axis":{"x":"independent","y":"independent"}},
 "layer":[
 {"data":{"name":"bands"},"transform":[{"filter":"datum.panel === 'E'"}],"mark":{"type":"rect","fillOpacity":0.2},
  "encoding":{"x":{"field":"start","type":"quantitative","scale":{"domain":[-3.95,104.95],"nice":false,"zero":false},"axis":{"orient":"top","title":null,"labels":false,"values":[5,15,25,35,45,55,65,75,85,95],"gridWidth":0.8}},
  "x2":{"field":"end"},
  "y":{"field":"lo","type":"quantitative","scale":{"domain":[0.25,5.75],"nice":false,"zero":false},"axis":{"orient":"right","title":null,"labels":false,"values":[0.5,1.5,2.5,3.5,4.5,5.5],"gridWidth":0.8}},
  "y2":{"field":"hi"},
  "color":{"field":"series","type":"nominal","scale":{"domain":["Femininity","Masculinity"],"range":["#440154","#FDE725"]}}}},
 {"data":{"name":"bands"},"transform":[{"filter":"datum.panel === 'E'"}],"mark":{"type":"rule","strokeDash":[6,5],"strokeWidth":1.3},
  "encoding":{"y":{"field":"mean","type":"quantitative","scale":{"domain":[0.25,5.75],"nice":false,"zero":false},"axis":null},
  "color":{"field":"series","type":"nominal","scale":{"domain":["Femininity","Masculinity"],"range":["#440154","#FDE725"]}}}},
 {"data":{"name":"E"},"transform":[{"fold":["Femininity","Masculinity"],"as":["series","value"]}],"mark":{"type":"line","strokeWidth":1.4,"invalid":"filter"},
  "encoding":{"x":{"field":"day","type":"quantitative","scale":{"domain":[-3.95,104.95],"nice":false,"zero":false},"axis":{"orient":"bottom","title":"Day","values":[0,10,20,30,40,50,60,70,80,90,100],"gridWidth":1.5}},
  "y":{"field":"value","type":"quantitative","scale":{"domain":[0.25,5.75],"nice":false,"zero":false},"axis":{"orient":"left","title":"Gender Expression","values":[1,2,3,4,5],"gridWidth":1.5}},
  "color":{"field":"series","type":"nominal","scale":{"domain":["Femininity","Masculinity"],"range":["#440154","#FDE725"]},"legend":{"title":"Gender Expression","orient":"bottom","direction":"vertical","symbolOpacity":1,"symbolDash":[],"padding":275,"offset":-257}}}}
 ]}]},
{"title":{"text":"F","anchor":"start","frame":"bounds","fontSize":18,"offset":-5},
 "vconcat":[{"title":{"text":"Post-menopause","anchor":"start","frame":"group","fontSize":18,"offset":8},
 "width":334,"height":202,
 "resolve":{"axis":{"x":"independent","y":"independent"}},
 "layer":[
 {"data":{"name":"bands"},"transform":[{"filter":"datum.panel === 'F'"}],"mark":{"type":"rect","fillOpacity":0.2},
  "encoding":{"x":{"field":"start","type":"quantitative","scale":{"domain":[-3.95,104.95],"nice":false,"zero":false},"axis":{"orient":"top","title":null,"labels":false,"values":[5,15,25,35,45,55,65,75,85,95],"gridWidth":0.8}},
  "x2":{"field":"end"},
  "y":{"field":"lo","type":"quantitative","scale":{"domain":[0.25,5.75],"nice":false,"zero":false},"axis":{"orient":"right","title":null,"labels":false,"values":[0.5,1.5,2.5,3.5,4.5,5.5],"gridWidth":0.8}},
  "y2":{"field":"hi"},
  "color":{"field":"series","type":"nominal","scale":{"domain":["Femininity","Masculinity"],"range":["#440154","#FDE725"]}}}},
 {"data":{"name":"bands"},"transform":[{"filter":"datum.panel === 'F'"}],"mark":{"type":"rule","strokeDash":[6,5],"strokeWidth":1.3},
  "encoding":{"y":{"field":"mean","type":"quantitative","scale":{"domain":[0.25,5.75],"nice":false,"zero":false},"axis":null},
  "color":{"field":"series","type":"nominal","scale":{"domain":["Femininity","Masculinity"],"range":["#440154","#FDE725"]}}}},
 {"data":{"name":"F"},"transform":[{"fold":["Femininity","Masculinity"],"as":["series","value"]}],"mark":{"type":"line","strokeWidth":1.4,"invalid":"filter"},
  "encoding":{"x":{"field":"day","type":"quantitative","scale":{"domain":[-3.95,104.95],"nice":false,"zero":false},"axis":{"orient":"bottom","title":"Day","values":[0,10,20,30,40,50,60,70,80,90,100],"gridWidth":1.5}},
  "y":{"field":"value","type":"quantitative","scale":{"domain":[0.25,5.75],"nice":false,"zero":false},"axis":{"orient":"left","title":"Gender Expression","values":[1,2,3,4,5],"gridWidth":1.5}},
  "color":{"field":"series","type":"nominal","scale":{"domain":["Femininity","Masculinity"],"range":["#440154","#FDE725"]},"legend":{"title":"Gender Expression","orient":"bottom","direction":"vertical","symbolOpacity":1,"symbolDash":[],"padding":275,"offset":-257}}}}
 ]}]}
 ]}
],
"config":{
 "font":"Liberation Sans",
 "view":{"stroke":null},
 "axis":{"domain":false,"ticks":false,"labelOverlap":false,"labelColor":"#4d4d4d","labelFontSize":11,"titleFontSize":15,"titleFontWeight":"normal","titleColor":"#000000","gridColor":"#e6e6e6","labelPadding":6,"titlePadding":5},
 "axisY":{"titlePadding":6},
 "title":{"fontWeight":"normal","color":"#000000"},
 "legend":{"titleFontSize":15,"titleFontWeight":"normal","titleColor":"#000000","labelFontSize":12,"labelColor":"#000000","symbolType":"stroke","symbolStrokeWidth":1.5,"symbolSize":360,"rowPadding":4,"labelOffset":11,"titlePadding":8}
}
}
